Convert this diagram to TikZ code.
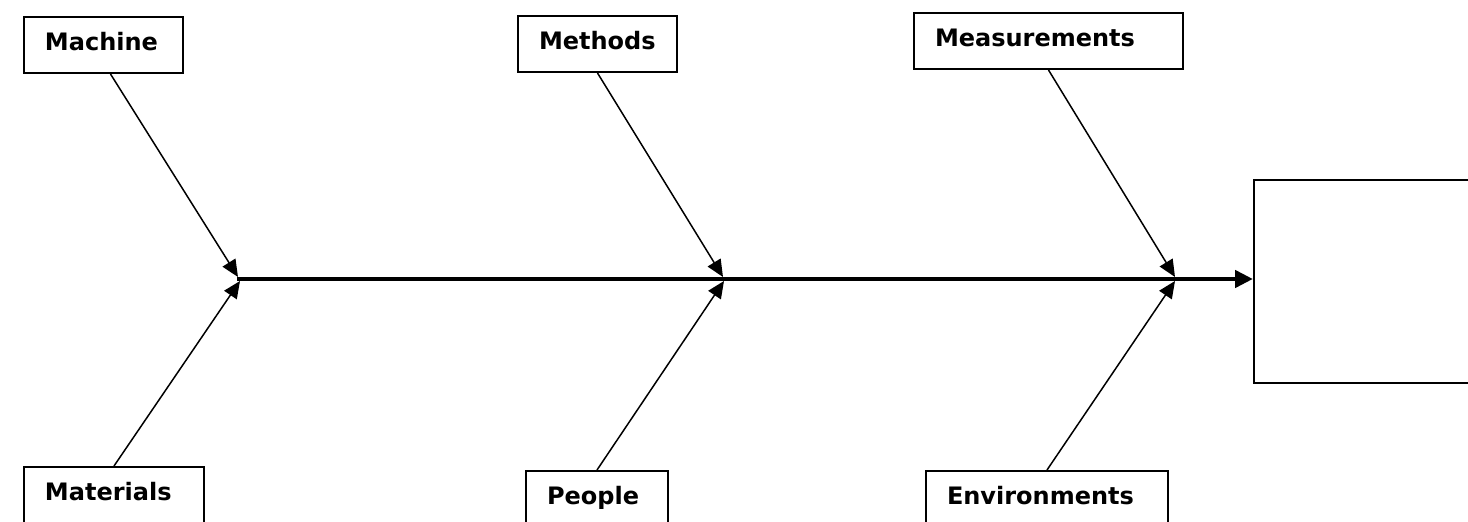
\documentclass[tikz,border=0pt]{standalone}
\usepackage{fontspec}
\setmainfont{DejaVu Sans}
\usetikzlibrary{arrows.meta}

\begin{document}
\begin{tikzpicture}[
    x=0.5pt, y=-0.5pt,
    every node/.style={font=\bfseries\fontsize{12}{14}\selectfont, align=left},
    cause/.style={draw, line width=1pt, anchor=north west, inner xsep=10.5pt, minimum height=28pt, text height=9pt, text depth=3pt},
    lowcause/.style={cause, minimum height=35pt, text depth=10pt},
    effectbox/.style={draw, line width=1pt, anchor=north west, minimum width=130pt, minimum height=101.5pt},
    branch/.style={-{Triangle[length=8.5pt, width=7.5pt]}, line width=0.75pt},
    spine/.style={-{Triangle[length=9pt, width=8.5pt]}, line width=2.25pt}
]
\useasboundingbox (0,0) rectangle (1468,522);
\clip (0,0) rectangle (1468,522);

% Cause boxes (top row)
\node[cause, text width=58.5pt] (machine) at (23,16) {Machine};
\node[cause, text width=58.5pt] (methods) at (517,15) {Methods};
\node[cause, text width=113.5pt] (measure) at (913,12) {Measurements};

% Cause boxes (bottom row)
\node[lowcause, text width=69pt] (material) at (23,466) {Materials};
\node[lowcause, text width=50pt] (people) at (525,470) {People};
\node[lowcause, text width=100pt] (environ) at (925,470) {Environments};

% Effect box (right)
\node[effectbox] (effect) at (1253,179) {};

% Junctions on the spine
\coordinate (tail) at (237,279);
\coordinate (j1u) at (238,277);
\coordinate (j1d) at (240,281);
\coordinate (j2u) at (723,277);
\coordinate (j2d) at (724,281);
\coordinate (j3u) at (1175,277);
\coordinate (j3d) at (1175,281);

% Main spine
\draw[spine] (tail) -- (tail -| effect.west);

% Branches
\draw[branch] ([xshift=3.5pt]machine.south) -- (j1u);
\draw[branch] (material.north) -- (j1d);
\draw[branch] (methods.south) -- (j2u);
\draw[branch] (people.north) -- (j2d);
\draw[branch] (measure.south) -- (j3u);
\draw[branch] (environ.north) -- (j3d);

\end{tikzpicture}
\end{document}
